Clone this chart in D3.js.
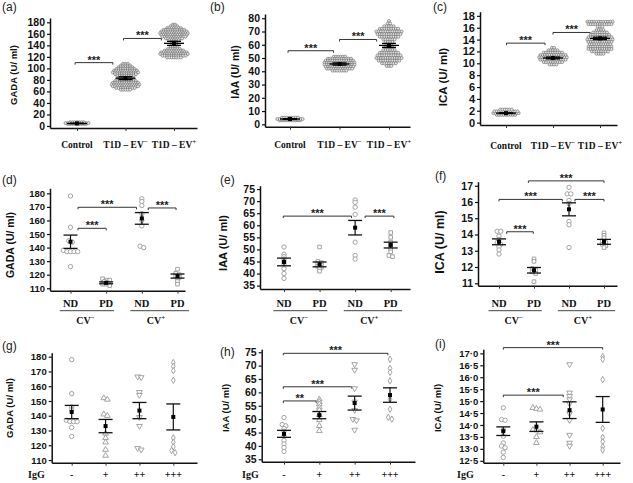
<!DOCTYPE html>
<html><head><meta charset="utf-8">
<script src="https://cdn.jsdelivr.net/npm/d3@7"></script>
<style>body{margin:0;background:#fff}</style>
</head><body>
<script>
// ---------------- DATA ----------------
const catsEV = ["Control", "T1D – EV", "T1D – EV"];
const supEV = ["", "−", "+"];
// swarm rows: [value, number of points in that row]
const gadaSwarm = [
  [[3.5,9],[5,11],[6.5,7]],
  [[108,3],[105,5],[102,7],[99,9],[96,11],[93,12],[90,10],[87,8],[84,7],[81,8],[78,10],[75,12],[72,13],[69,12],[66,9],[63,5]],
  [[176,2],[173,4],[170,7],[167,10],[164,12],[161,13],[158,12],[155,11],[152,8],[149,5],[146,3],[143,3],[140,3],[137,4],[134,6],[131,9],[128,12],[125,13],[122,11],[119,7]]
];
const gadaSwarmMean = [4.5, 83, 143.5];
const gadaSwarmSem = [0.3, 2.5, 3.5];
const iaaSwarm = [
  [[3,10],[4,12],[5,8]],
  [[51,6],[49.5,11],[48,13],[46.5,14],[45,14],[43.5,13],[42,12],[40.5,7]],
  [[78,1],[76,2],[74,5],[72,9],[70,12],[68,11],[66,9],[64,6],[62,4],[60,3],[58,4],[56,6],[54,9],[52,11],[50,12],[48,10],[46,7],[44,3]]
];
const iaaSwarmMean = [4, 45.5, 59.5];
const iaaSwarmSem = [0.3, 0.8, 1.5];
const icaSwarm = [
  [[1.3,9],[1.6,12],[1.9,11],[2.2,6]],
  [[12.6,2],[12.2,5],[11.8,9],[11.4,12],[11.0,13],[10.6,12],[10.2,9],[9.8,4]],
  [[17.0,12],[16.6,11],[16.2,3],[15.6,4],[15.2,7],[14.8,9],[14.4,11],[14.0,12],[13.6,11],[13.2,10],[12.8,11],[12.4,11],[12.0,8],[11.6,4]]
];
const icaSwarmMean = [1.6, 10.9, 14.2];
const icaSwarmSem = [0.05, 0.15, 0.2];

const catsCV = ["ND", "PD", "ND", "PD"];
const groupsCV = ["CV", "CV"];
const supCV = ["−", "+"];
const shapesCV = ["circle", "square", "circle", "square"];
const gadaCV = [[178,155,145,144,138,137,137,137,137,126],[117,116,116,115,114,113,113,112],[176,174,171,165,160,156,141,140],[124,121,120,119,118,117,115,113]];
const gadaCVMean = [144.3, 114, 161.5, 119];
const gadaCVSem = [4.9, 0.7, 4.3, 1.5];
const iaaCV = [[51,48,47,46,45,44,42,40,38],[51,45,44.5,44,43.5,43,42.5,42,41],[70.5,69.5,67.5,64.5,53,47.5,46],[57,55,53,52,51,50,49,47.5,47]];
const iaaCVMean = [44.8, 43.8, 59, 51.8];
const iaaCVSem = [1.6, 1.0, 3.0, 1.2];
const icaCV = [[14.2,14.2,13.9,13.7,13.5,13.4,13.25,13.05,12.8],[12.5,12.35,11.9,11.8,11.7,11.6,11.1],[16.9,16.5,16.5,16.1,15.9,14.8,14.6,13.2],[14.1,13.95,13.8,13.6,13.5,13.4,13.3,13.2]];
const icaCVMean = [13.55, 11.8, 15.55, 13.55];
const icaCVSem = [0.18, 0.17, 0.4, 0.15];

const catsIgG = ["-", "+", "++", "+++"];
const shapesIgG = ["circle", "up", "down", "diamond"];
const gadaIgG = [[178,155,146,144,137,136,136,136,132,126],[152,151,141,140,128,125,122,117,113],[166.5,166,156,154,139,133,118,117],[176,173.5,170.5,164,125,122,119,116.5,115]];
const gadaIgGMean = [142.5, 133, 143.5, 139.2];
const gadaIgGSem = [4.5, 4.5, 5.5, 8.8];
const iaaIgG = [[50.6,48,47.5,46.5,45.5,43.5,42,40.7,39.4,37.9],[57.4,56.5,55.6,54.4,53.4,51.6,49.7,47.5,45.6],[70.5,68.4,61.5,56.5,53.4,50,49.5,46],[72.4,69,67.5,64.3,57.4,53.7,50.7,50]];
const iaaIgGMean = [44.5, 51.5, 56, 59];
const iaaIgGSem = [1.3, 1.35, 2.6, 2.7];
const icaIgG = [[14.72,14.23,14.2,13.79,13.53,13.25,13.12,13.05,12.86,12.64],[14.72,14.68,14.65,13.8,13.78,13.7,13.5,13.25],[16.54,15.35,15.21,15.07,14.9,14.48,14.2,13.58,13.25,13.12],[16.86,16.75,15.9,13.86,13.48,13.3,13.09,12.95]];
const icaIgGMean = [13.74, 13.93, 14.62, 14.65];
const icaIgGSem = [0.18, 0.2, 0.35, 0.54];

// significance brackets: [from category index, to category index, value, label]
const sigA = [[-0.04,0.74,110,"***"],[0.96,1.74,152,"***"]];
const sigB = [[-0.04,0.88,55.5,"***"],[1.0,1.75,64,"***"]];
const sigC = [[0.01,0.83,13.4,"***"],[1.0,1.79,15.2,"***"]];
const sigD = [[0.21,1.0,154.2,"***"],[0.21,1.85,169.7,"***"],[2.18,2.96,169.2,"***"]];
const sigE = [[-0.02,1.9,63.8,"***"],[2.28,3.09,63.8,"***"]];
const sigF = [[0.22,0.98,14.17,"***"],[0,1.81,16.16,"***"],[2.17,3.0,16.16,"***"],[0.84,3.0,17.3,"***"]];
const sigG = [];
const sigH = [[-0.02,0.91,56.8,"**"],[-0.02,1.92,62.1,"***"],[-0.02,2.94,74.6,"***"]];
const sigI = [[0,1.81,15.25,"***"],[0,3.0,17.24,"***"]];

const ticksGADA = [0,20,40,60,80,100,120,140,160,180];
const ticksIAA = [0,10,20,30,40,50,60,70,80];
const ticksICA = [0,2,4,6,8,10,12,14,16,18];
const ticksGADA2 = [110,120,130,140,150,160,170,180];
const ticksIAA2 = [35,40,45,50,55,60,65,70,75];
const ticksICA2 = [11,12,13,14,15,16,17];
const ticksICA3 = [12.5,13,13.5,14,14.5,15,15.5,16,16.5,17];

// ---------------- DRAWING ----------------
const SANS = "'Liberation Sans', Arial, sans-serif";
const SERIF = "'Liberation Serif', 'Times New Roman', serif";
const svg = d3.select("body").append("svg").attr("width",633).attr("height",483)
  .style("background","#fff");

function makePanel(o){
  const step = (o.xc[1]-o.xc[0])/(o.n-1);
  const x = d3.scaleLinear().domain([(o.ax[0]-o.xc[0])/step,(o.ax[1]-o.xc[0])/step]).range(o.ax);
  const y = d3.scaleLinear().domain(o.dom).range([o.yB,o.yT]);
  const g = svg.append("g");
  const ya = g.append("g").attr("transform",`translate(${o.ax[0]},0)`)
    .call(d3.axisLeft(y).tickValues(o.ticks).tickSize(3).tickSizeOuter(0).tickPadding(2)
      .tickFormat(o.fmt || d3.format("d")));
  ya.select(".domain").attr("stroke-width",1.5).attr("stroke","#111");
  ya.selectAll(".tick line").attr("stroke-width",1.2).attr("stroke","#111");
  ya.selectAll("text").attr("font-family",SANS).attr("font-weight","bold")
    .attr("font-size",o.tfs).attr("fill","#111");
  const xa = g.append("g").attr("transform",`translate(0,${o.yB})`)
    .call(d3.axisBottom(x).tickValues(d3.range(o.n)).tickSize(3).tickSizeOuter(0).tickFormat(""));
  xa.select(".domain").attr("stroke-width",1.5).attr("stroke","#111");
  xa.selectAll(".tick line").attr("stroke-width",1).attr("stroke","#333");
  g.append("text").attr("transform",`translate(${o.yl[0]},${o.yl[1]}) rotate(-90)`)
    .attr("text-anchor","middle").attr("dominant-baseline","central")
    .attr("font-family",SANS).attr("font-weight","bold").attr("font-size",o.yls)
    .attr("fill","#111").text(o.ylabel);
  g.append("text").attr("x",o.tag[0]).attr("y",o.tag[1]).attr("font-family",SANS)
    .attr("font-size",12).attr("fill","#222").text(o.tagText);
  return {g,x,y};
}

function drawSwarm(P, rows, means, sems){
  rows.forEach((grp,i)=>{
    const cx = P.x(i);
    grp.forEach(([v,n])=>{
      for(let k=0;k<n;k++){
        P.g.append("circle").attr("cx",cx+(k-(n-1)/2)*2.3).attr("cy",P.y(v)).attr("r",1.5)
          .attr("fill","#e4e4e4").attr("stroke","#666").attr("stroke-width",0.6);
      }
    });
  });
  means.forEach((m,i)=>{
    const cx=P.x(i), s=sems[i];
    P.g.append("line").attr("x1",cx).attr("x2",cx).attr("y1",P.y(m-s)).attr("y2",P.y(m+s)).attr("stroke","#000").attr("stroke-width",1.3);
    [m-s,m+s].forEach(v=>P.g.append("line").attr("x1",cx-7).attr("x2",cx+7).attr("y1",P.y(v)).attr("y2",P.y(v)).attr("stroke","#000").attr("stroke-width",1.3));
    P.g.append("line").attr("x1",cx-10).attr("x2",cx+10).attr("y1",P.y(m)).attr("y2",P.y(m)).attr("stroke","#000").attr("stroke-width",1.3);
    P.g.append("rect").attr("x",cx-2).attr("y",P.y(m)-2).attr("width",4).attr("height",4).attr("fill","#000");
  });
}

const symType = {circle:d3.symbolCircle, square:d3.symbolSquare, up:d3.symbolTriangle, down:d3.symbolTriangle, diamond:d3.symbolDiamond};
const symSize = {circle:15, square:13, up:14, down:14, diamond:12};

function drawPoints(P, groups, shapes, means, sems){
  groups.forEach((vals,i)=>{
    const cx = P.x(i);
    const pts = vals.map(v=>({v,py:P.y(v)})).sort((a,b)=>a.py-b.py);
    const clusters=[];
    pts.forEach(p=>{
      const last=clusters[clusters.length-1];
      if(last && p.py-last[0].py<2.4) last.push(p); else clusters.push([p]);
    });
    const sh = shapes[i];
    clusters.forEach(cl=>{
      const m=cl.length;
      cl.forEach((p,k)=>{
        const px = cx+(k-(m-1)/2)*3.6;
        P.g.append("path").attr("d",d3.symbol().type(symType[sh]).size(symSize[sh])())
          .attr("transform",`translate(${px},${p.py})${sh==="down"?" rotate(180)":""}`)
          .attr("fill","#fff").attr("stroke","#9a9a9a").attr("stroke-width",0.9);
      });
    });
  });
  means.forEach((m,i)=>{
    const cx=P.x(i), s=sems[i];
    P.g.append("line").attr("x1",cx).attr("x2",cx).attr("y1",P.y(m-s)).attr("y2",P.y(m+s)).attr("stroke","#111").attr("stroke-width",1.2);
    [m-s,m+s].forEach(v=>P.g.append("line").attr("x1",cx-7).attr("x2",cx+7).attr("y1",P.y(v)).attr("y2",P.y(v)).attr("stroke","#111").attr("stroke-width",1.3));
    P.g.append("rect").attr("x",cx-2).attr("y",P.y(m)-2).attr("width",4).attr("height",4).attr("fill","#000");
  });
}

function drawSig(P, sig){
  sig.forEach(([a,b,v,lab])=>{
    const yy=P.y(v), x1=P.x(a), x2=P.x(b);
    P.g.append("path").attr("d",`M${x1},${yy+2}V${yy}H${x2}V${yy+2}`).attr("fill","none")
      .attr("stroke","#333").attr("stroke-width",1);
    P.g.append("text").attr("x",(x1+x2)/2).attr("y",yy+1).attr("text-anchor","middle")
      .attr("font-family",SANS).attr("font-weight","bold").attr("font-size",11).attr("fill","#222").text(lab);
  });
}

function labelsEV(P, yb){
  catsEV.forEach((c,i)=>{
    const t=P.g.append("text").attr("x",P.x(i)).attr("y",yb).attr("text-anchor","middle")
      .attr("font-family",SERIF).attr("font-weight","bold").attr("font-size",9.5).attr("fill","#111").text(c);
    if(supEV[i]) t.append("tspan").attr("dy",-4).attr("font-size",7).text(supEV[i]);
  });
}

function labelsCV(P){
  catsCV.forEach((c,i)=>{
    P.g.append("text").attr("x",P.x(i)).attr("y",306.7).attr("text-anchor","middle")
      .attr("font-family",SERIF).attr("font-weight","bold").attr("font-size",10.5).attr("fill","#111").text(c);
  });
  [[-0.3,1.22],[1.68,3.32]].forEach(([a,b])=>{
    P.g.append("line").attr("x1",P.x(a)).attr("x2",P.x(b)).attr("y1",310.7).attr("y2",310.7)
      .attr("stroke","#444").attr("stroke-width",1);
  });
  groupsCV.forEach((c,i)=>{
    const t=P.g.append("text").attr("x",P.x(i===0?0.42:2.4)).attr("y",324).attr("text-anchor","middle")
      .attr("font-family",SERIF).attr("font-weight","bold").attr("font-size",10).attr("fill","#111").text(c);
    t.append("tspan").attr("dy",-4).attr("font-size",7).text(supCV[i]);
  });
}

function labelsIgG(P, igx){
  P.g.append("text").attr("x",igx).attr("y",478).attr("font-family",SERIF).attr("font-weight","bold")
    .attr("font-size",10).attr("fill","#111").text("IgG");
  catsIgG.forEach((c,i)=>{
    P.g.append("text").attr("x",P.x(i)).attr("y",478).attr("text-anchor","middle")
      .attr("font-family",SERIF).attr("font-weight","bold").attr("font-size",10).attr("fill","#111").text(c);
  });
}

const dotFmt = v => d3.format(".1f")(v).replace(".","·");

const A = makePanel({n:3,xc:[77,174],ax:[50,197],yB:128,yT:18,dom:[-3.5,187.5],ticks:ticksGADA,tfs:10.5,
  ylabel:"GADA (U/ ml)",yl:[13,75],yls:9.5,tag:[2,11],tagText:"(a)"});
drawSig(A,sigA); drawSwarm(A,gadaSwarm,gadaSwarmMean,gadaSwarmSem); labelsEV(A,148);
const B = makePanel({n:3,xc:[290,389],ax:[265,410],yB:126.7,yT:14,dom:[-1.8,83.2],ticks:ticksIAA,tfs:10.5,
  ylabel:"IAA (U/ ml)",yl:[235,72],yls:10.5,tag:[210,11],tagText:"(b)"});
drawSig(B,sigB); drawSwarm(B,iaaSwarm,iaaSwarmMean,iaaSwarmSem); labelsEV(B,148);
const C = makePanel({n:3,xc:[506,600],ax:[480,617],yB:125,yT:11.7,dom:[-0.4,18.7],ticks:ticksICA,tfs:11,
  ylabel:"ICA (U/ ml)",yl:[443,77],yls:11.5,tag:[433,10.5],tagText:"(c)"});
drawSig(C,sigC); drawSwarm(C,icaSwarm,icaSwarmMean,icaSwarmSem); labelsEV(C,149);
const D = makePanel({n:4,xc:[70.5,177.5],ax:[50,185],yB:290.7,yT:188.3,dom:[108.2,183.7],ticks:ticksGADA2,tfs:9.5,
  ylabel:"GADA (U/ ml)",yl:[10,245],yls:10.5,tag:[2,184],tagText:"(d)"});
drawSig(D,sigD); drawPoints(D,gadaCV,shapesCV,gadaCVMean,gadaCVSem); labelsCV(D);
const E = makePanel({n:4,xc:[284,390.7],ax:[260,410],yB:289,yT:185.7,dom:[33.6,76.4],ticks:ticksIAA2,tfs:10.5,
  ylabel:"IAA (U/ ml)",yl:[223,243],yls:11,tag:[220,184],tagText:"(e)"});
drawSig(E,sigE); drawPoints(E,iaaCV,shapesCV,iaaCVMean,iaaCVSem); labelsCV(E);
const F = makePanel({n:4,xc:[499,604],ax:[478,617],yB:285.7,yT:181.7,dom:[10.85,17.25],ticks:ticksICA2,tfs:10.5,
  ylabel:"ICA (U/ ml)",yl:[440,242],yls:12.5,tag:[435,180],tagText:"(f)"});
drawSig(F,sigF); drawPoints(F,icaCV,shapesCV,icaCVMean,icaCVSem); labelsCV(F);
const G = makePanel({n:4,xc:[71.7,173.3],ax:[51.7,197],yB:462.7,yT:352.7,dom:[108.2,182.7],ticks:ticksGADA2,tfs:9.5,
  ylabel:"GADA (U/ ml)",yl:[9,408],yls:9.5,tag:[2,350],tagText:"(g)"});
drawSig(G,sigG); drawPoints(G,gadaIgG,shapesIgG,gadaIgGMean,gadaIgGSem); labelsIgG(G,28);
const Hh = makePanel({n:4,xc:[284,390],ax:[261.7,415],yB:461.7,yT:349.3,dom:[34.1,76.1],ticks:ticksIAA2,tfs:10.5,
  ylabel:"IAA (U/ ml)",yl:[225,408],yls:9.5,tag:[220,356],tagText:"(h)"});
drawSig(Hh,sigH); drawPoints(Hh,iaaIgG,shapesIgG,iaaIgGMean,iaaIgGSem); labelsIgG(Hh,242);
const I = makePanel({n:4,xc:[503.3,602.7],ax:[483.3,620],yB:462.7,yT:349.3,dom:[12.42,17.17],ticks:ticksICA3,tfs:9.5,
  fmt:dotFmt,ylabel:"ICA (U/ ml)",yl:[437,408],yls:9.5,tag:[435,348],tagText:"(i)"});
drawSig(I,sigI); drawPoints(I,icaIgG,shapesIgG,icaIgGMean,icaIgGSem); labelsIgG(I,457);
</script></body></html>
